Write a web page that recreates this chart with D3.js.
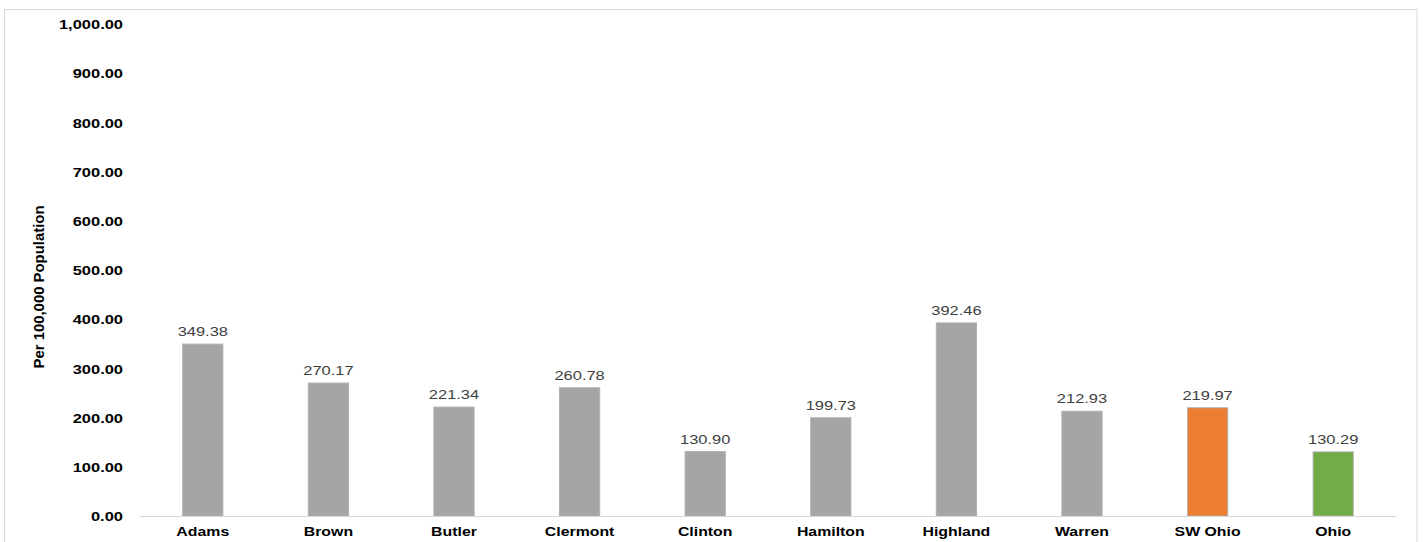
<!DOCTYPE html>
<html>
<head>
<meta charset="utf-8">
<script src="https://cdn.jsdelivr.net/npm/d3@7"></script>
<style>
  html, body { margin: 0; padding: 0; background: #fff; }
  svg { display: block; }
  text { font-family: Arial, "Liberation Sans", Helvetica, sans-serif; }
</style>
</head>
<body>
<svg id="chart" width="1424" height="542"></svg>
<script>
// Rate per 100,000 population by county, region and state
const categories = ["Adams", "Brown", "Butler", "Clermont", "Clinton", "Hamilton", "Highland", "Warren", "SW Ohio", "Ohio"];
const values = [349.38, 270.17, 221.34, 260.78, 130.90, 199.73, 392.46, 212.93, 219.97, 130.29];
const barColors = ["#a5a5a5", "#a5a5a5", "#a5a5a5", "#a5a5a5", "#a5a5a5", "#a5a5a5", "#a5a5a5", "#a5a5a5", "#ed7d31", "#70ad47"];
const yTicks = [0, 100, 200, 300, 400, 500, 600, 700, 800, 900, 1000];
const yTitle = "Per 100,000 Population";

const svg = d3.select("#chart");
const W = 1424, H = 542;
const plot = { left: 140, right: 1396, top: 24, bottom: 516 };
const sx = 1.22; // horizontal stretch of the lettering

// chart frame
svg.append("rect")
  .attr("x", 4.5).attr("y", 9.5)
  .attr("width", 1412.5).attr("height", H + 20)
  .attr("fill", "#fff")
  .attr("stroke", "#d9d9d9").attr("stroke-width", 1);

const x = d3.scaleBand()
  .domain(categories)
  .range([plot.left, plot.right])
  .paddingInner(0.68)
  .paddingOuter(0.34);

const y = d3.scaleLinear()
  .domain([0, 1000])
  .range([plot.bottom, plot.top]);

const fmt = d3.format(",.2f");

// value axis (labels only)
const yAxis = svg.append("g")
  .attr("transform", `translate(${plot.left},0)`)
  .call(d3.axisLeft(y).tickValues(yTicks).tickFormat(fmt).tickSize(0).tickPadding(0));
yAxis.select(".domain").remove();
yAxis.selectAll("text")
  .attr("x", -17 / sx)
  .attr("dy", "0.35em")
  .attr("transform", `scale(${sx},1)`)
  .attr("fill", "#000")
  .style("font-size", "13.5px")
  .style("font-weight", "bold")
  .style("font-family", "Arial, 'Liberation Sans', sans-serif");

// bars
svg.append("g").selectAll("rect")
  .data(categories)
  .join("rect")
  .attr("x", d => x(d))
  .attr("y", (d, i) => y(values[i]))
  .attr("width", x.bandwidth())
  .attr("height", (d, i) => y(0) - y(values[i]))
  .attr("fill", (d, i) => barColors[i])
  .attr("stroke", "#b0b0b0")
  .attr("stroke-width", 1);

// category axis
const xAxis = svg.append("g")
  .attr("transform", `translate(0,${plot.bottom})`)
  .call(d3.axisBottom(x).tickSize(0).tickPadding(0));
xAxis.select(".domain")
  .attr("stroke", "#d9d9d9")
  .attr("stroke-width", 1.2)
  .attr("d", `M${plot.left},0.5H${plot.right}`);
xAxis.selectAll("text")
  .attr("y", 20)
  .attr("dy", 0)
  .attr("transform", `scale(${sx},1)`)
  .attr("fill", "#000")
  .style("font-size", "13px")
  .style("font-weight", "bold")
  .style("font-family", "Arial, 'Liberation Sans', sans-serif");

// value labels above bars
svg.append("g").selectAll("text")
  .data(categories)
  .join("text")
  .attr("transform", (d, i) => `translate(${x(d) + x.bandwidth() / 2},${y(values[i]) - 8}) scale(${sx},1)`)
  .attr("text-anchor", "middle")
  .attr("fill", "#404040")
  .style("font-size", "13.5px")
  .text((d, i) => fmt(values[i]));

// axis title
svg.append("text")
  .attr("transform", `translate(44,${(plot.top + plot.bottom) / 2 + 17}) rotate(-90)`)
  .attr("text-anchor", "middle")
  .attr("fill", "#000")
  .style("font-size", "14px")
  .style("font-weight", "bold")
  .attr("textLength", 163)
  .attr("lengthAdjust", "spacingAndGlyphs")
  .text(yTitle);
</script>
</body>
</html>
